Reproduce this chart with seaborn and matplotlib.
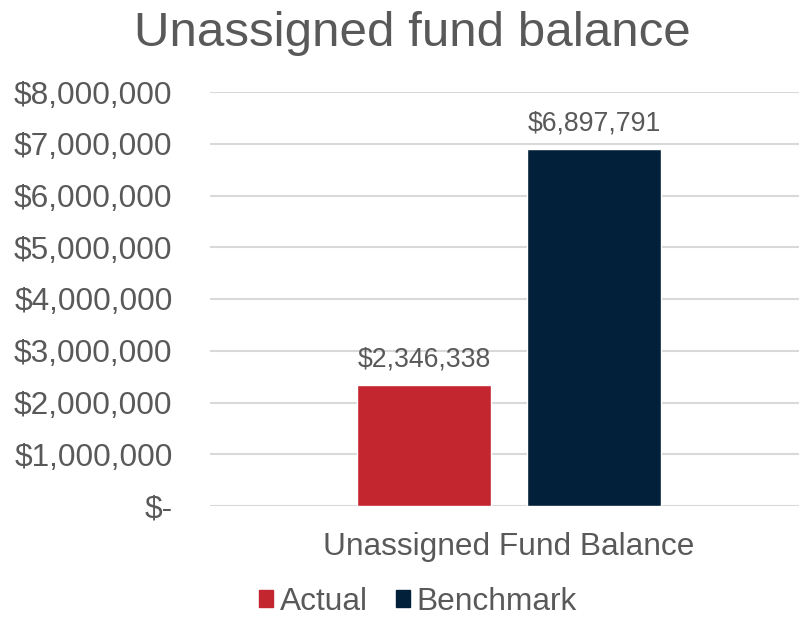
import matplotlib
matplotlib.use("Agg")
import matplotlib.pyplot as plt
import matplotlib.ticker as mticker
import seaborn as sns
import pandas as pd

# Chart data
categories = ["Unassigned Fund Balance"]
series = ["Actual", "Benchmark"]
values = [2346338, 6897791]
colors = ["#C3262F", "#022039"]
y_ticks = [0, 1000000, 2000000, 3000000, 4000000, 5000000, 6000000, 7000000, 8000000]

df = pd.DataFrame({
    "category": categories * len(series),
    "series": series,
    "value": values,
})

sns.set_theme(style="white")
plt.rcParams["font.family"] = ["Liberation Sans", "DejaVu Sans"]
text_color = "#595959"
grid_color = "#D9D9D9"

fig = plt.figure(figsize=(7.99, 6.17), dpi=100)
ax = fig.add_axes([210 / 799, 111 / 617, 589 / 799, 414 / 617])

sns.barplot(data=df, x="category", y="value", hue="series", hue_order=series,
            palette=colors, width=0.568, gap=0.21, saturation=1, ax=ax,
            legend=False, errorbar=None)

ax.set_ylim(0, 8000000)
ax.set_xlim(-0.5, 0.485)
ax.set_yticks(y_ticks)


def money(v, pos=None):
    if v == 0:
        return "$-"
    return "${:,.0f}".format(v)


ax.yaxis.set_major_formatter(mticker.FuncFormatter(money))
ax.yaxis.grid(True, color=grid_color, linewidth=1.5)
ax.set_axisbelow(True)
for s in ax.spines.values():
    s.set_visible(False)
ax.tick_params(axis="y", length=0, pad=27, labelsize=22.8, labelcolor=text_color)
ax.tick_params(axis="x", length=0, pad=19, labelsize=22.8, labelcolor=text_color)
ax.set_xlabel("")
ax.set_ylabel("")

for cont in ax.containers:
    ax.bar_label(cont, labels=[money(v) for v in cont.datavalues],
                 padding=9, fontsize=19.2, color=text_color)

fig.suptitle("Unassigned fund balance", x=412 / 799, y=1 - 34 / 617,
             va="center", fontsize=35.5, color=text_color)

handles = [plt.Rectangle((0, 0), 1, 1, color=c) for c in colors]
fig.legend(handles, series, loc="center", bbox_to_anchor=(418 / 799, 15 / 617),
           ncol=2, frameon=False, fontsize=22.8, labelcolor=text_color,
           handlelength=0.45, handleheight=0.45, handletextpad=0.2,
           columnspacing=0.9, borderpad=0.1)

fig.savefig("out.png", dpi=100)
